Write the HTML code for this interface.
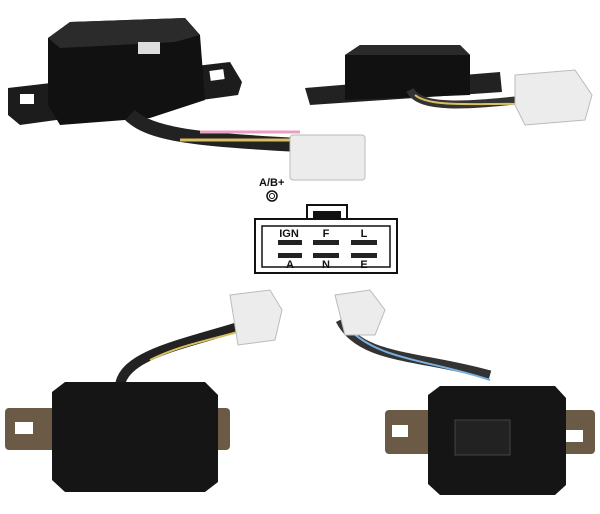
<!DOCTYPE html>
<html><head><style>
html,body{margin:0;padding:0;background:#fff;}
svg{display:block;}
text{font-family:"Liberation Sans",Arial,sans-serif;font-weight:bold;}
</style></head><body>
<svg width="600" height="514" viewBox="0 0 600 514" xmlns="http://www.w3.org/2000/svg">
<!-- top-left unit -->
<polygon points="8,88 230,62 242,82 238,95 20,125 8,115" fill="#1c1c1c"/>
<rect x="20" y="94" width="14" height="10" fill="#fff"/>
<rect x="210" y="70" width="14" height="10" fill="#fff" transform="rotate(-8 217 75)"/>
<polygon points="48,38 70,22 185,18 200,35 205,100 150,118 60,125 48,105" fill="#111"/>
<polygon points="48,38 70,22 185,18 200,35 175,42 60,48" fill="#2b2b2b"/>
<rect x="138" y="42" width="22" height="12" fill="#ddd"/>
<path d="M130,115 C150,135 200,140 300,145" stroke="#222" stroke-width="14" fill="none"/>
<path d="M180,140 L300,140" stroke="#d8c060" stroke-width="3" fill="none"/>
<path d="M200,132 L300,132" stroke="#e8a0c0" stroke-width="3" fill="none"/>
<rect x="290" y="135" width="75" height="45" rx="3" fill="#ececec" stroke="#bbb"/>
<!-- top-right unit -->
<polygon points="305,88 500,72 502,92 310,105" fill="#222"/>
<polygon points="345,55 360,45 460,45 470,55 470,95 345,100" fill="#111"/>
<polygon points="345,55 360,45 460,45 470,55" fill="#2a2a2a"/>
<path d="M410,90 C420,110 470,105 520,100" stroke="#333" stroke-width="8" fill="none"/>
<path d="M415,95 C430,108 480,103 520,104" stroke="#d8c060" stroke-width="2" fill="none"/>
<polygon points="515,75 575,70 592,95 585,120 525,125 515,105" fill="#ececec" stroke="#bbb"/>
<!-- connector diagram -->
<text x="259" y="186" font-size="11" fill="#111">A/B+</text>
<circle cx="272" cy="196" r="5" fill="none" stroke="#111" stroke-width="1.5"/>
<circle cx="272" cy="196" r="2.5" fill="none" stroke="#111" stroke-width="1"/>
<rect x="307" y="205" width="40" height="14" fill="none" stroke="#111" stroke-width="2"/>
<rect x="313" y="211" width="28" height="8" fill="#111"/>
<path d="M255,219 L397,219 L397,273 L255,273 Z" fill="#fff" stroke="#111" stroke-width="2"/>
<path d="M262,226 L390,226 L390,267 L262,267 Z" fill="none" stroke="#111" stroke-width="1.5"/>
<text x="289" y="237" font-size="11" text-anchor="middle" fill="#111">IGN</text>
<text x="326" y="237" font-size="11" text-anchor="middle" fill="#111">F</text>
<text x="364" y="237" font-size="11" text-anchor="middle" fill="#111">L</text>
<rect x="278" y="240" width="24" height="5" fill="#222"/>
<rect x="313" y="240" width="26" height="5" fill="#222"/>
<rect x="351" y="240" width="26" height="5" fill="#222"/>
<rect x="278" y="253" width="24" height="5" fill="#222"/>
<rect x="313" y="253" width="26" height="5" fill="#222"/>
<rect x="351" y="253" width="26" height="5" fill="#222"/>
<text x="290" y="268" font-size="11" text-anchor="middle" fill="#111">A</text>
<text x="326" y="268" font-size="11" text-anchor="middle" fill="#111">N</text>
<text x="364" y="268" font-size="11" text-anchor="middle" fill="#111">E</text>
<!-- bottom-left unit -->
<path d="M120,385 C125,355 180,345 245,325" stroke="#222" stroke-width="10" fill="none"/>
<path d="M150,360 C180,345 210,340 245,330" stroke="#d8c060" stroke-width="2" fill="none"/>
<polygon points="230,295 270,290 282,310 275,340 238,345" fill="#ececec" stroke="#bbb"/>
<rect x="5" y="408" width="225" height="42" rx="4" fill="#6b5a45"/>
<rect x="15" y="422" width="18" height="12" fill="#fff"/>
<rect x="200" y="428" width="18" height="12" fill="#fff"/>
<polygon points="52,392 65,382 205,382 218,395 218,482 205,492 65,492 52,480" fill="#151515"/>
<!-- bottom-right unit -->
<path d="M340,320 C360,360 420,355 490,375" stroke="#333" stroke-width="9" fill="none"/>
<path d="M350,330 C380,360 430,360 490,380" stroke="#7ab0e0" stroke-width="2" fill="none"/>
<polygon points="335,295 370,290 385,310 375,335 345,335" fill="#ececec" stroke="#bbb"/>
<rect x="385" y="410" width="210" height="44" rx="4" fill="#6b5a45"/>
<rect x="392" y="425" width="16" height="12" fill="#fff"/>
<rect x="565" y="430" width="18" height="12" fill="#fff"/>
<polygon points="428,395 440,386 555,386 566,398 566,485 555,495 440,495 428,484" fill="#151515"/>
<rect x="455" y="420" width="55" height="35" fill="#222" stroke="#444"/>
</svg>
</body></html>
